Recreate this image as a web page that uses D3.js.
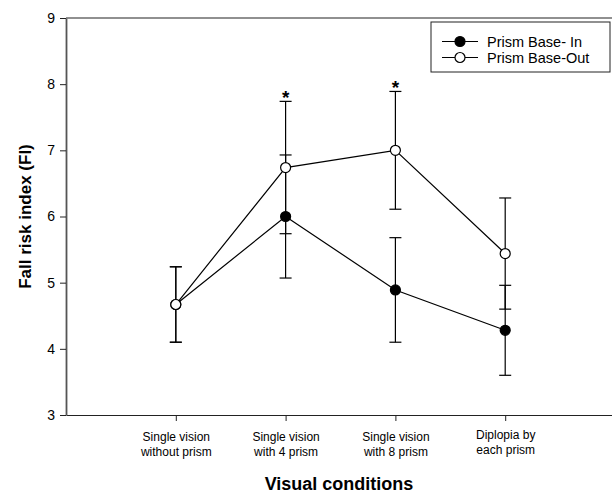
<!DOCTYPE html>
<html>
<head>
<meta charset="utf-8">
<script src="https://cdn.jsdelivr.net/npm/d3@7"></script>
<style>
  body { margin: 0; background: #fff; }
  svg { font-family: Arial, "Liberation Sans", sans-serif; }
</style>
</head>
<body>
<svg id="chart" width="612" height="493"></svg>
<script>
// data
const conditions = ['c1', 'c2', 'c3', 'c4'];
const conditionLabels = [
  ['Single vision', 'without prism'],
  ['Single vision', 'with 4 prism'],
  ['Single vision', 'with 8 prism'],
  ['Diplopia by', 'each prism']
];
const baseInMean = [4.67, 6.0, 4.89, 4.28];
const baseInErr = [0.57, 0.93, 0.79, 0.68];
const baseOutMean = [4.67, 6.74, 7.0, 5.44];
const baseOutErr = [0.57, 1.0, 0.89, 0.84];
const significant = [false, true, true, false];
const yTicks = [3, 4, 5, 6, 7, 8, 9];

const svg = d3.select('#chart');
const margin = { left: 66, top: 18, bottom: 415 };

const x = d3.scalePoint().domain(conditions).range([margin.left, 615]).padding(1);
const y = d3.scaleLinear().domain([3, 9]).range([margin.bottom, margin.top]);

// frame lines (top/bottom run off to the right)
svg.append('line')
  .attr('x1', margin.left).attr('x2', 615)
  .attr('y1', margin.top).attr('y2', margin.top)
  .attr('stroke', '#222').attr('stroke-width', 1.2);

const xAxis = d3.axisBottom(x).tickSizeInner(6).tickSizeOuter(0).tickFormat('');
const gx = svg.append('g')
  .attr('transform', 'translate(0,' + margin.bottom + ')')
  .call(xAxis)
  .attr('font-family', null).attr('font-size', null);
gx.select('.domain').attr('stroke', '#222').attr('stroke-width', 1.2);
gx.selectAll('.tick line').attr('stroke', '#222');

gx.selectAll('.tick').each(function(d, i) {
  const t = d3.select(this).append('text')
    .attr('fill', '#000')
    .attr('text-anchor', 'middle')
    .attr('font-size', 12)
    .attr('y', i === 3 ? 24 : 26);
  conditionLabels[i].forEach((s, k) => {
    t.append('tspan').attr('x', 0).attr('dy', k === 0 ? 0 : 15).text(s);
  });
});

const yAxis = d3.axisLeft(y).tickValues(yTicks).tickFormat(d3.format('d'))
  .tickSizeInner(6).tickSizeOuter(0).tickPadding(5);
const gy = svg.append('g')
  .attr('transform', 'translate(' + margin.left + ',0)')
  .call(yAxis)
  .attr('font-family', null).attr('font-size', null);
gy.select('.domain').attr('stroke', '#555').attr('stroke-width', 1.8);
gy.selectAll('.tick line').attr('stroke', '#222');
gy.selectAll('.tick text').attr('font-size', 14).attr('fill', '#000');

// axis titles
svg.append('text')
  .attr('transform', 'translate(31,' + ((margin.top + margin.bottom) / 2) + ') rotate(-90)')
  .attr('text-anchor', 'middle')
  .attr('font-size', 17).attr('font-weight', 'bold')
  .text('Fall risk index (FI)');

svg.append('text')
  .attr('x', 339).attr('y', 490)
  .attr('text-anchor', 'middle')
  .attr('font-size', 18).attr('font-weight', 'bold')
  .text('Visual conditions');

const series = [
  { mean: baseInMean, err: baseInErr, fill: '#000' },
  { mean: baseOutMean, err: baseOutErr, fill: '#fff' }
];

const line = d3.line()
  .x((d, i) => x(conditions[i]))
  .y(d => y(d));

// error bars first
series.forEach(s => {
  const g = svg.append('g');
  s.mean.forEach((m, i) => {
    const cx = x(conditions[i]);
    const hi = y(m + s.err[i]), lo = y(m - s.err[i]);
    g.append('line').attr('x1', cx).attr('x2', cx).attr('y1', hi).attr('y2', lo)
      .attr('stroke', '#000').attr('stroke-width', 1.2);
    [hi, lo].forEach(yy => {
      g.append('line').attr('x1', cx - 6).attr('x2', cx + 6).attr('y1', yy).attr('y2', yy)
        .attr('stroke', '#000').attr('stroke-width', 1.2);
    });
  });
});

// lines and markers
series.forEach(s => {
  svg.append('path')
    .datum(s.mean)
    .attr('d', line)
    .attr('fill', 'none')
    .attr('stroke', '#000')
    .attr('stroke-width', 1.2);
});
series.forEach(s => {
  svg.append('g').selectAll('circle')
    .data(s.mean)
    .enter().append('circle')
    .attr('cx', (d, i) => x(conditions[i]))
    .attr('cy', d => y(d))
    .attr('r', 5)
    .attr('fill', s.fill)
    .attr('stroke', '#000')
    .attr('stroke-width', 1.2);
});

// significance marks above Base-Out error bars
significant.forEach((sig, i) => {
  if (!sig) return;
  svg.append('text')
    .attr('x', x(conditions[i]))
    .attr('y', y(baseOutMean[i] + baseOutErr[i]) + 3)
    .attr('text-anchor', 'middle')
    .attr('font-size', 19).attr('font-weight', 'bold')
    .text('*');
});

// legend
const lg = svg.append('g');
lg.append('rect')
  .attr('x', 431).attr('y', 22).attr('width', 179).attr('height', 50)
  .attr('fill', '#fff').attr('stroke', '#222').attr('stroke-width', 1);
const legendItems = [
  { label: 'Prism Base- In', fill: '#000', yy: 41.5 },
  { label: 'Prism Base-Out', fill: '#fff', yy: 57.5 }
];
legendItems.forEach(it => {
  lg.append('line').attr('x1', 442).attr('x2', 478).attr('y1', it.yy).attr('y2', it.yy)
    .attr('stroke', '#000').attr('stroke-width', 1.2);
  lg.append('circle').attr('cx', 460).attr('cy', it.yy).attr('r', 5)
    .attr('fill', it.fill).attr('stroke', '#000').attr('stroke-width', 1.2);
  lg.append('text').attr('x', 487).attr('y', it.yy + 5)
    .attr('font-size', 14.5).text(it.label);
});
</script>
</body>
</html>
